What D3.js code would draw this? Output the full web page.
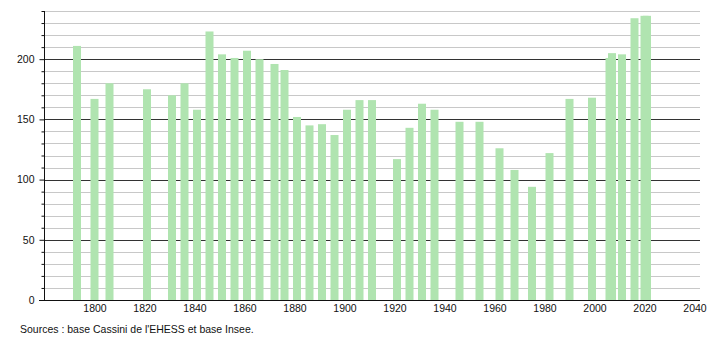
<!DOCTYPE html>
<html>
<head>
<meta charset="utf-8">
<script src="https://cdn.jsdelivr.net/npm/d3@7"></script>
<style>
  body { margin: 0; background: #fff; }
  svg text { font-family: "Liberation Sans", Arial, sans-serif; font-size: 10.5px; fill: #111; }
</style>
</head>
<body>
<div id="chart"></div>
<script>
// census years and population
var years = [1793, 1800, 1806, 1821, 1831, 1836, 1841, 1846, 1851, 1856, 1861, 1866, 1872, 1876,
  1881, 1886, 1891, 1896, 1901, 1906, 1911, 1921, 1926, 1931, 1936, 1946, 1954, 1962, 1968,
  1975, 1982, 1990, 1999, 2006, 2007, 2011, 2016, 2020, 2021];
var population = [211, 167, 180, 175, 170, 180, 158, 223, 204, 201, 207, 200, 196, 191,
  152, 145, 146, 137, 158, 166, 166, 117, 143, 163, 158, 148, 148, 126, 108,
  94, 122, 167, 168, 201, 205, 204, 234, 236, 236];
var xTicks = [1800, 1820, 1840, 1860, 1880, 1900, 1920, 1940, 1960, 1980, 2000, 2020, 2040];
var yTicks = [0, 50, 100, 150, 200];
var source = "Sources : base Cassini de l'EHESS et base Insee.";

var width = 710, height = 340;
var svg = d3.select("#chart").append("svg")
  .attr("width", width).attr("height", height);

var x = d3.scaleLinear().domain([1780, 2042]).range([44.5, 699.5]);
var y = d3.scaleLinear().domain([0, 240]).range([300, 11]);

// grid lines every 10, darker ones every 50
var grid = d3.range(10, 241, 10);
svg.append("g").selectAll("line")
  .data(grid)
  .enter().append("line")
  .attr("x1", 44).attr("x2", 700)
  .attr("y1", function(d) { return Math.round(y(d)) + 0.5; })
  .attr("y2", function(d) { return Math.round(y(d)) + 0.5; })
  .attr("stroke", function(d) { return d % 50 == 0 ? "#333" : "#c8c8c8"; })
  .attr("stroke-width", 1);

// bars
svg.append("g").selectAll("rect")
  .data(years)
  .enter().append("rect")
  .attr("x", function(d) { return x(d) - 4; })
  .attr("width", 8)
  .attr("y", function(d, i) { return y(population[i]); })
  .attr("height", function(d, i) { return y(0) - y(population[i]); })
  .attr("fill", "#b0e4b0");

// y axis with minor ticks
var yAxis = d3.axisLeft(y)
  .tickValues(d3.range(0, 241, 10))
  .tickSize(3)
  .tickFormat(function(d) { return yTicks.indexOf(d) >= 0 ? d : ""; });
var gy = svg.append("g")
  .attr("transform", "translate(44.5,0)")
  .call(yAxis);
gy.select(".domain").attr("d", "M0," + y(240) + "V" + y(0)).attr("stroke", "#111");
gy.selectAll(".tick line").attr("stroke", "#111")
  .attr("x2", function(d) { return d % 50 == 0 ? -5 : -3; });
gy.selectAll(".tick text").attr("x", -10).attr("font-size", null).attr("font-family", null);

// x axis
var xAxis = d3.axisBottom(x).tickValues(xTicks).tickSize(0).tickFormat(d3.format("d"));
var gx = svg.append("g")
  .attr("transform", "translate(0,300.5)")
  .call(xAxis);
gx.select(".domain").attr("d", "M39,0H700").attr("stroke", "#111");
gx.selectAll(".tick text").attr("dy", "0.71em").attr("y", 4).attr("font-size", null).attr("font-family", null);

svg.append("text")
  .attr("x", 20).attr("y", 333)
  .text(source);
</script>
</body>
</html>
